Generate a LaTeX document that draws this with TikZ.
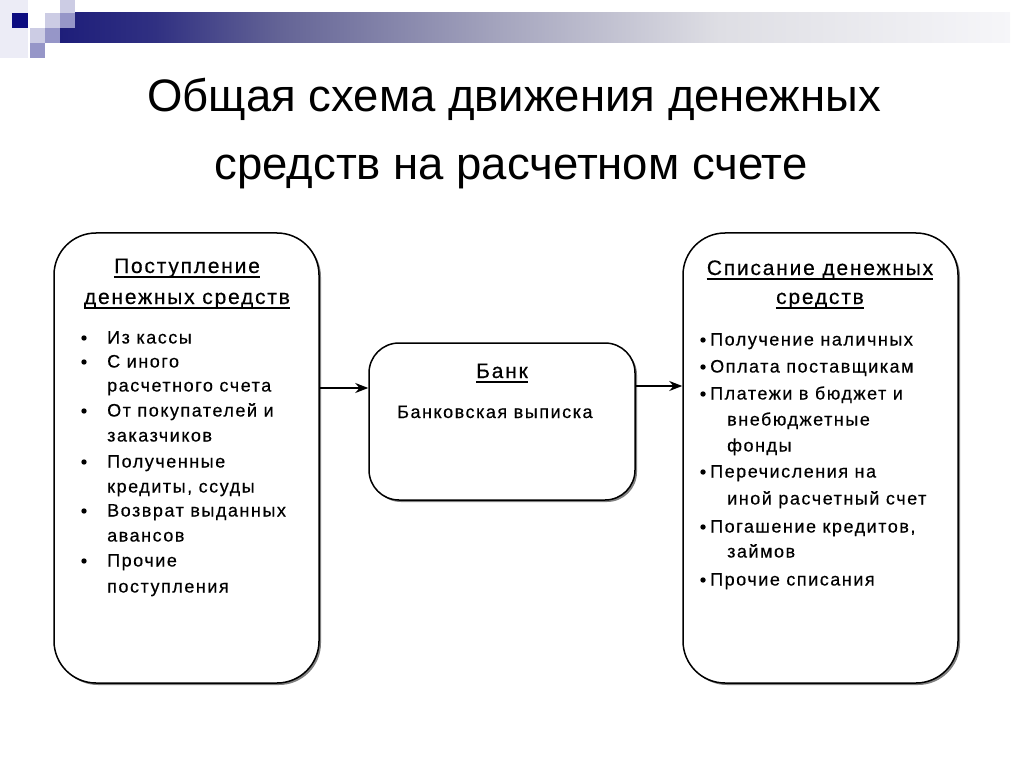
\documentclass[tikz,border=0pt]{standalone}
\usepackage{fontspec}
\setmainfont{Liberation Sans}
\newfontfamily\boxfont[LetterSpace=8.5,FakeBold=0.4]{Liberation Sans}
\usetikzlibrary{arrows.meta,shadows}

\definecolor{navy}{RGB}{12,12,128}
\definecolor{sqlight}{RGB}{204,204,228}
\definecolor{sqmid}{RGB}{150,150,200}
\definecolor{sqfaint}{RGB}{236,236,246}
\definecolor{fadeA}{RGB}{30,30,122}
\definecolor{fadeB}{RGB}{48,48,130}
\definecolor{fadeC}{RGB}{100,100,150}
\definecolor{fadeD}{RGB}{165,165,190}
\definecolor{fadeE}{RGB}{222,222,228}
\definecolor{fadeF}{RGB}{246,246,249}
\pgfdeclarehorizontalshading{barfade}{100bp}{color(0bp)=(fadeA); color(25bp)=(fadeA);
  color(30bp)=(fadeB); color(36.6bp)=(fadeC); color(48.2bp)=(fadeD);
  color(59.7bp)=(fadeE); color(75bp)=(fadeF); color(100bp)=(fadeF)}

\begin{document}
\begin{tikzpicture}[x=1pt, y=-1pt,
    box/.style={draw, line width=1.5pt, fill=white, inner sep=0pt,
      drop shadow={shadow xshift=2pt, shadow yshift=-2pt, fill=black!50, opacity=1}},
    headtext/.style={font=\boxfont\fontsize{21}{25}\selectfont, anchor=base, inner sep=0pt},
    itemtext/.style={font=\boxfont\fontsize{18}{22}\selectfont, anchor=base west, inner sep=0pt},
    underline/.style={line width=1.4pt},
    flow/.style={line width=1.3pt, -{Stealth[length=13pt, width=10pt]}}]
  \useasboundingbox (0,0) rectangle (1024,767);
  % corner squares and bar
  \fill[sqfaint] (0,0) rectangle (28,58);
  \shade[shading=barfade] (60,13) rectangle (1010,43);
  \fill[navy] (12,13) rectangle (28,28);
  \fill[sqlight] (45,13) rectangle (60,28);
  \fill[sqlight] (60,0) rectangle (75,13);
  \fill[sqmid] (60,13) rectangle (75,28);
  \fill[sqlight] (30,28) rectangle (45,43);
  \fill[sqmid] (45,28) rectangle (60,43);
  \fill[sqmid] (30,43) rectangle (45,58);
  % title
  \node[font=\fontsize{45.5}{52}\selectfont, anchor=base] (title1) at (514,112) {Общая схема движения денежных};
  \node[font=\fontsize{45.5}{52}\selectfont, anchor=base] (title2) at (511,180) {средств на расчетном счете};
  % boxes
  \node[box, rounded corners=42pt, minimum width=265pt, minimum height=450pt] (inflow) at (186.5,458) {};
  \node[box, rounded corners=42pt, minimum width=275pt, minimum height=450pt] (outflow) at (820.5,458) {};
  \node[box, rounded corners=30pt, minimum width=266pt, minimum height=157pt] (bank) at (502,421.5) {};
  \coordinate (inline) at (0,388);
  \coordinate (outline) at (0,386);
  \draw[flow] (inflow.east |- inline) -- (bank.west |- inline);
  \draw[flow] (bank.east |- outline) -- (outflow.west |- outline);
  % left box
  \node[headtext] (inhead1) at (187,273) {Поступление};
  \node[headtext] (inhead2) at (187,304) {денежных средств};
  \foreach \y/\t [count=\i] in {338/Из кассы, 362/С иного, 386/расчетного счета,
      411/От покупателей и, 436/заказчиков, 462/Полученные, 487/{кредиты, ссуды},
      511/Возврат выданных, 536/авансов, 561/Прочие, 587/поступления}
    \node[itemtext] (in\i) at (107,\y+5.5) {\t};
  \foreach \y in {338,362,411,462,511,561}
    \fill (84,\y) circle (2.7pt);
  % bank
  \node[headtext] (bankhead) at (502,378) {Банк};
  \node[itemtext] (bankitem) at (397,418) {Банковская выписка};
  % right box
  \node[headtext] (outhead1) at (820,275) {Списание денежных};
  \node[headtext] (outhead2) at (820,304) {средств};
  \foreach \x/\y/\t [count=\i] in {710/340/Получение наличных, 710/367/Оплата поставщикам,
      710/394/Платежи в бюджет и, 727/420/внебюджетные, 727/446/фонды,
      710/472/Перечисления на, 727/499/иной расчетный счет, 710/527/{Погашение кредитов,},
      727/552/займов, 710/580/Прочие списания}
    \node[itemtext] (out\i) at (\x,\y+5.5) {\t};
  \foreach \y in {340,367,394,472,527,580}
    \fill (703,\y) circle (2.7pt);
  % underlines of the headings
  \foreach \n in {inhead1,inhead2,bankhead,outhead1,outhead2}
    \draw[underline] ([yshift=-4pt]\n.base west) -- ([yshift=-4pt]\n.base east);
\end{tikzpicture}
\end{document}
